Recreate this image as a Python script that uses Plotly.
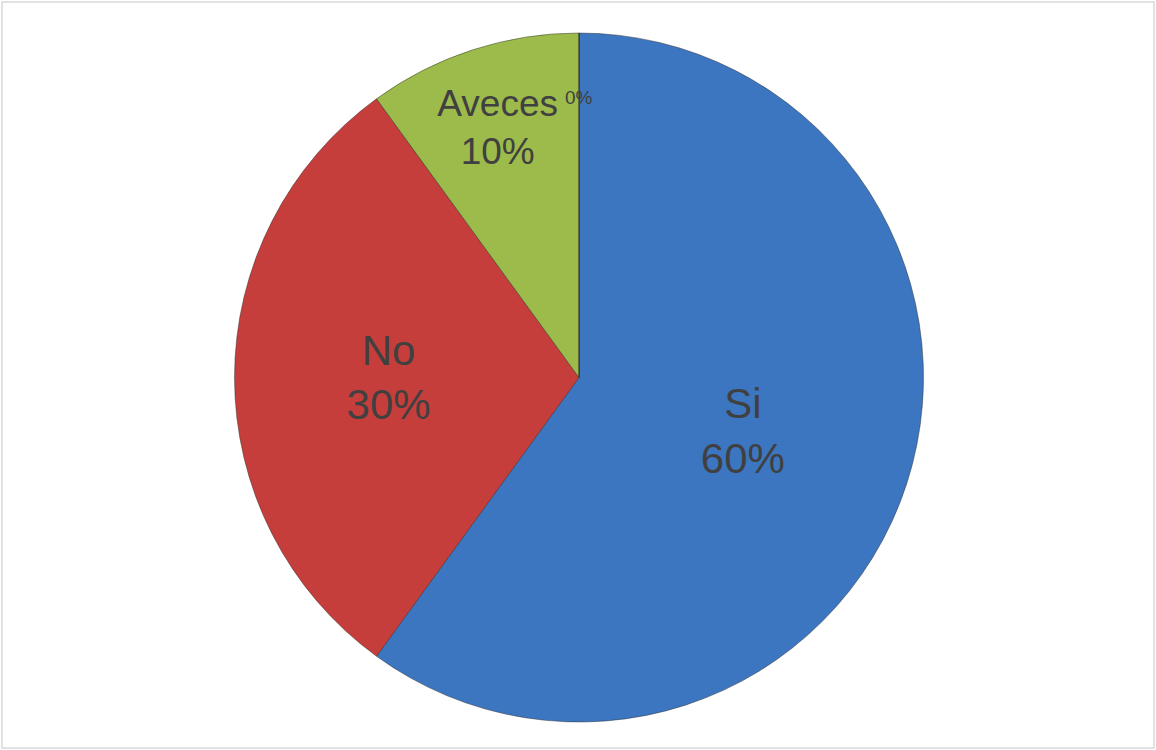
import math
import plotly.graph_objects as go

categories = ["Si", "No", "Aveces", ""]
values = [60, 30, 10, 0]
colors = ["#3D76C0", "#C63E3B", "#9CBB4B", "#8064A2"]

W, H = 1156, 750
R_FRAC_ZERO = 0.85  # radial position of the label of the empty slice

dom_y = [28 / H, 1 - 33 / H]
dom_x = [0, 1]

fig = go.Figure(go.Pie(
    labels=categories,
    values=values,
    sort=False,
    direction="clockwise",
    rotation=0,
    marker=dict(colors=colors, line=dict(color="rgba(40,40,40,0.45)", width=1)),
    texttemplate="%{label}<br>%{percent:.0%}",
    textposition="inside",
    insidetextorientation="horizontal",
    textfont=dict(family="Liberation Sans, Arial, sans-serif", size=[42, 42, 37, 19], color="#404040"),
    showlegend=False,
    hoverinfo="label+percent",
    domain=dict(x=dom_x, y=dom_y),
))

# plotly does not print labels for zero-valued slices: place it at its angle
total = sum(values)
annotations = []
cum = 0
plot_w = W - 2
radius_px = (dom_y[1] - dom_y[0]) * H / 2
cx_px = plot_w * (dom_x[0] + dom_x[1]) / 2
cy_px = H * (dom_y[0] + dom_y[1]) / 2
for lab, v in zip(categories, values):
    if v == 0:
        ang = 2 * math.pi * cum / total
        x_px = cx_px + R_FRAC_ZERO * radius_px * math.sin(ang)
        y_px = cy_px + R_FRAC_ZERO * radius_px * math.cos(ang)
        annotations.append(dict(
            x=x_px / plot_w, y=y_px / H, xref="paper", yref="paper",
            text=f"{lab}{round(100 * v / total)}%", showarrow=False,
            font=dict(family="Liberation Sans, Arial, sans-serif", size=19, color="#404040"),
        ))
    cum += v

fig.update_layout(
    width=W, height=H,
    margin=dict(l=2, r=0, t=0, b=0),
    paper_bgcolor="white",
    annotations=annotations,
    shapes=[dict(type="rect", xref="paper", yref="paper",
                 x0=0.0, x1=1 - 2 / W, y0=2 / H, y1=1 - 2 / H,
                 line=dict(color="#D9D9D9", width=1.5))],
)

fig.write_html("out.html", config={"displayModeBar": False},
               post_script="document.body.style.margin='0';document.body.style.overflow='hidden';")
